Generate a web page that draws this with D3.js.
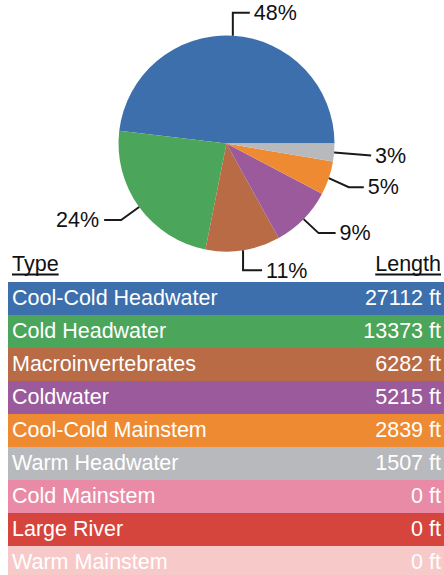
<!DOCTYPE html>
<html lang="en">
<head>
<meta charset="utf-8">
<title>Stream types</title>
<script src="https://d3js.org/d3.v7.min.js"></script>
<style>
body { margin: 0; background: #fff; }
text { font-family: "Liberation Sans", Arial, sans-serif; font-size: 21.5px; }
.leader { fill: none; stroke: #1a1a1a; stroke-width: 2px; }
</style>
</head>
<body>
<div id="chart"></div>
<script>
var types = ["Cool-Cold Headwater", "Cold Headwater", "Macroinvertebrates", "Coldwater",
  "Cool-Cold Mainstem", "Warm Headwater", "Cold Mainstem", "Large River", "Warm Mainstem"];
var lengths = [27112, 13373, 6282, 5215, 2839, 1507, 0, 0, 0];
var colors = ["#3c6fab", "#4ba55b", "#b86b45", "#9a5a9b", "#ee8b32", "#b7b9bd", "#e98ba6", "#d6453d", "#f8c9c9"];
var headers = ["Type", "Length"];

// leader elbows per slice: [dx, dy, horizontal run]
var leaders = [[0, -23, 17], [-18, 13, -17], [0, 20, 19], [15, 14, 17], [20, 9, 15], [37, 3, 0]];

var width = 444, height = 575;
var cx = 226.5, cy = 143.5, r = 108;

var svg = d3.select("#chart").append("svg")
  .attr("width", width)
  .attr("height", height);

var total = d3.sum(lengths);
var slices = d3.range(types.length).filter(function(i) { return lengths[i] > 0; });

var pie = d3.pie()
  .sort(null)
  .value(function(i) { return lengths[i]; })
  .startAngle(Math.PI / 2)
  .endAngle(Math.PI / 2 - 2 * Math.PI);
var arc = d3.arc().innerRadius(0).outerRadius(r);
var arcs = pie(slices);

var g = svg.append("g").attr("transform", "translate(" + cx + "," + cy + ")");
g.selectAll("path.slice")
  .data(arcs)
  .enter().append("path")
  .attr("class", "slice")
  .attr("d", arc)
  .attr("fill", function(d) { return colors[d.data]; });

arcs.forEach(function(d, k) {
  var a = (d.startAngle + d.endAngle) / 2;
  var x0 = r * Math.sin(a), y0 = -r * Math.cos(a);
  var L = leaders[k];
  var x1 = x0 + L[0], y1 = y0 + L[1], x2 = x1 + L[2];
  g.append("path")
    .attr("class", "leader")
    .attr("d", d3.line()([[x0, y0], [x1, y1], [x2, y1]]));
  var right = L[2] > 0 || (L[2] === 0 && L[0] > 0);
  g.append("text")
    .attr("x", x2 + (right ? 4 : -5))
    .attr("y", y1)
    .attr("dy", "0.34em")
    .attr("text-anchor", right ? "start" : "end")
    .attr("fill", "#111")
    .text(Math.round(lengths[d.data] / total * 100) + "%");
});

// table
var y = d3.scaleBand()
  .domain(types)
  .range([282, 282 + 33 * types.length]);

var hdr = svg.selectAll("text.hdr")
  .data(headers)
  .enter().append("text")
  .attr("class", "hdr")
  .attr("x", function(d, i) { return i ? 441 : 12; })
  .attr("y", 271)
  .attr("text-anchor", function(d, i) { return i ? "end" : "start"; })
  .attr("fill", "#111")
  .text(function(d) { return d; });

hdr.each(function() {
  var b = this.getBBox();
  svg.append("line")
    .attr("x1", b.x).attr("x2", b.x + b.width)
    .attr("y1", 274.5).attr("y2", 274.5)
    .attr("stroke", "#111")
    .attr("stroke-width", 2);
});

var rows = svg.selectAll("g.row")
  .data(types)
  .enter().append("g")
  .attr("class", "row")
  .attr("transform", function(d) { return "translate(0," + y(d) + ")"; });

rows.append("rect")
  .attr("x", 8)
  .attr("width", width - 8)
  .attr("height", y.bandwidth())
  .attr("fill", function(d, i) { return colors[i]; });

rows.append("text")
  .attr("x", 12)
  .attr("y", 23)
  .attr("fill", "#fff")
  .text(function(d) { return d; });

rows.append("text")
  .attr("x", 441)
  .attr("y", 23)
  .attr("text-anchor", "end")
  .attr("fill", "#fff")
  .text(function(d, i) { return lengths[i] + " ft"; });
</script>
</body>
</html>
